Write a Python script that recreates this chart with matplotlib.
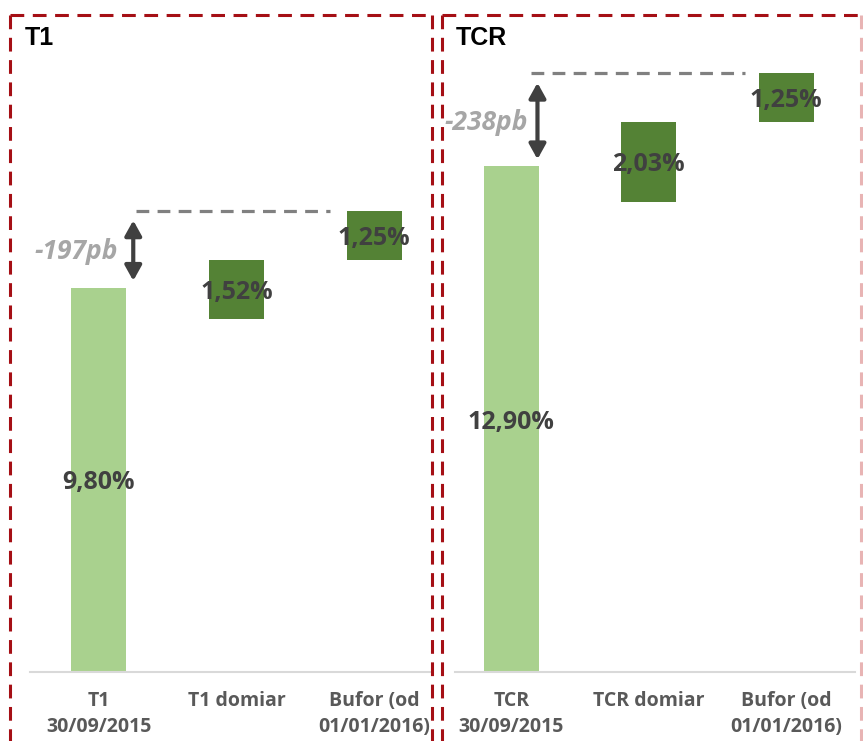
import matplotlib
matplotlib.use("Agg")
import matplotlib.pyplot as plt
from matplotlib.lines import Line2D

# --- data -------------------------------------------------------------
t1_categories = ["T1\n30/09/2015", "T1 domiar", "Bufor (od\n01/01/2016)"]
t1_actual = 9.80
t1_addons = [1.52, 1.25]
t1_gap_bp = -197

tcr_categories = ["TCR\n30/09/2015", "TCR domiar", "Bufor (od\n01/01/2016)"]
tcr_actual = 12.90
tcr_addons = [2.03, 1.25]
tcr_gap_bp = -238

# --- style ------------------------------------------------------------
LIGHT = "#A9D18E"
DARK = "#548235"
VALUE_TXT = "#404040"
CAT_TXT = "#595959"
GAP_TXT = "#A6A6A6"
BORDER = "#A50F15"
W, H = 863, 741
PX_PER_PCT = 39.2
BASE_PX = 672
TOP_PX = 40

plt.rcParams["font.family"] = ["Open Sans", "DejaVu Sans"]


def fmt(v):
    return f"{v:.2f}%".replace(".", ",")


def panel(fig, left_px, right_px, xlim, cats, actual, addons, gap_bp,
          dash_span, arrow_x, gap_x):
    ax = fig.add_axes([left_px / W, (H - BASE_PX) / H,
                       (right_px - left_px) / W, (BASE_PX - TOP_PX) / H])
    ax.set_xlim(*xlim)
    ax.set_ylim(0, (BASE_PX - TOP_PX) / PX_PER_PCT)

    required = actual - gap_bp / 100.0
    width = 0.4

    # starting level
    ax.bar(0, actual, width=width, color=LIGHT, zorder=2)
    ax.text(0, actual / 2, fmt(actual), ha="center", va="center_baseline",
            fontsize=18, fontweight="bold", color=VALUE_TXT, zorder=4)

    # add-on requirements stacked down from the total requirement
    top = required
    for i in range(len(addons) - 1, -1, -1):
        h = addons[i]
        bottom = top - h
        ax.bar(i + 1, h, bottom=bottom, width=width, color=DARK, zorder=2)
        ax.text(i + 1, bottom + h / 2, fmt(h), ha="center", va="center_baseline",
                fontsize=18, fontweight="bold", color=VALUE_TXT, zorder=4)
        top = bottom

    # requirement level
    ax.plot(dash_span, [required, required], color="#808080", lw=2.3,
            dashes=(4, 2.6), zorder=1)

    # gap arrow
    ax.annotate("", xy=(arrow_x, actual + 0.18), xytext=(arrow_x, required - 0.25),
                arrowprops=dict(arrowstyle="<|-|>,head_width=0.5,head_length=0.9",
                                color="#404040", lw=3, shrinkA=0, shrinkB=0))
    ax.text(gap_x, (actual + required) / 2 - 0.06, f"{gap_bp}pb", ha="right",
            va="center", fontsize=19, fontweight="bold", fontstyle="italic",
            color=GAP_TXT)

    ax.set_xticks(range(len(cats)))
    ax.set_xticklabels(cats, fontsize=14, fontweight="bold", color=CAT_TXT,
                       linespacing=1.38)
    ax.tick_params(axis="x", length=0, pad=14)
    ax.set_yticks([])
    for s in ("left", "right", "top"):
        ax.spines[s].set_visible(False)
    ax.spines["bottom"].set_color("#D9D9D9")
    ax.spines["bottom"].set_linewidth(1.5)
    ax.set_facecolor("none")
    return ax


fig = plt.figure(figsize=(W / 100, H / 100), dpi=100)

panel(fig, 30, 432, (-0.5, 2.42), t1_categories, t1_actual, t1_addons,
      t1_gap_bp, (0.27, 1.68), 0.25, 0.14)
panel(fig, 455, 855, (-0.41, 2.5), tcr_categories, tcr_actual, tcr_addons,
      tcr_gap_bp, (0.14, 1.70), 0.19, 0.12)

# panel titles
fig.text(25 / W, 1 - 38 / H, "T1", fontsize=18, fontweight="bold",
         color="black", va="center", ha="left", family="Liberation Sans")
fig.text(456 / W, 1 - 38 / H, "TCR", fontsize=18, fontweight="bold",
         color="black", va="center", ha="left", family="Liberation Sans")


# dashed panel frames (open at the bottom)
def frame(x0, x1, y0, right_color):
    fx0, fx1 = x0 / W, x1 / W
    fy0 = 1 - y0 / H
    kw = dict(lw=2.2, linestyle=(0, (4.5, 2.8)), transform=fig.transFigure)
    fig.add_artist(Line2D([fx0, fx1], [fy0, fy0], color=BORDER, **kw))
    fig.add_artist(Line2D([fx0, fx0], [fy0, 0], color=BORDER, **kw))
    fig.add_artist(Line2D([fx1, fx1], [fy0, 0], color=right_color, **kw))


frame(10, 432, 15, BORDER)
frame(442, 861, 15, "#E8B4B4")

fig.savefig("out.png", dpi=100)
